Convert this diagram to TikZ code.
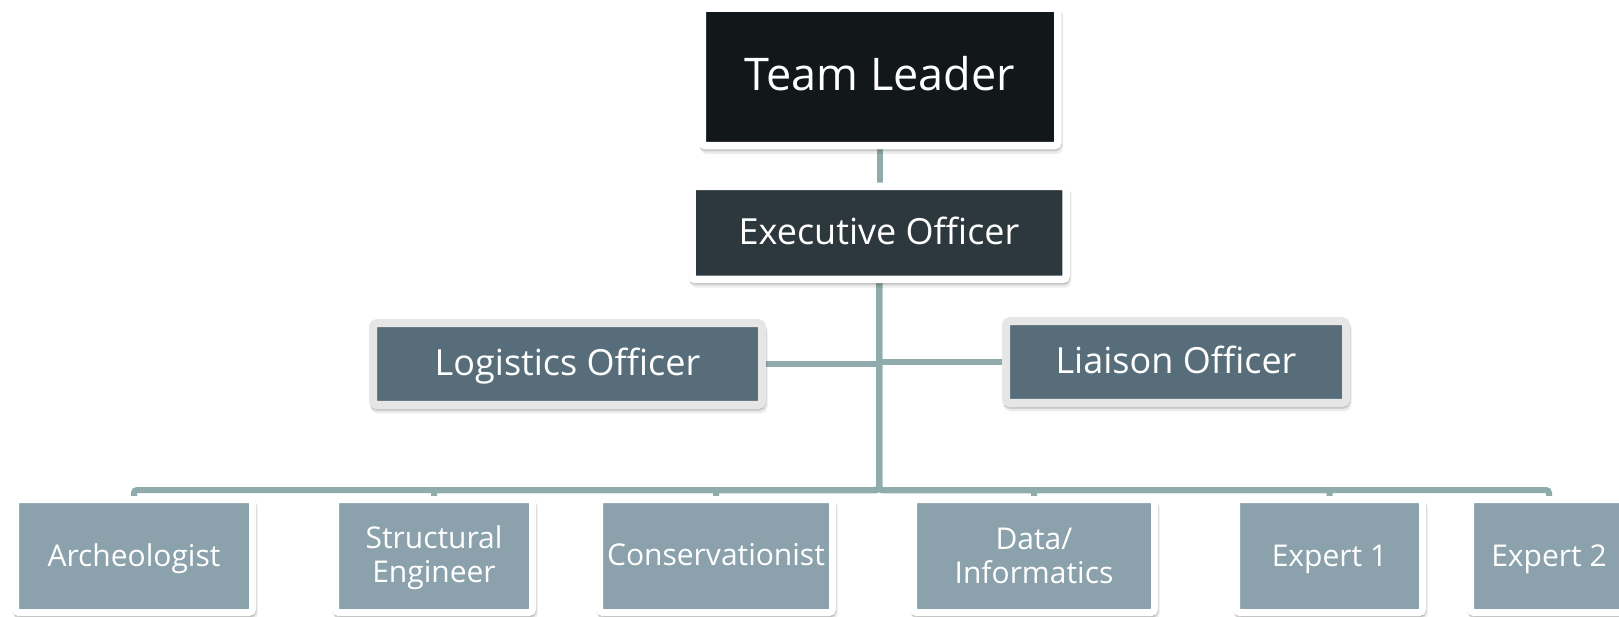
\documentclass[tikz,border=0pt]{standalone}
\usepackage{fontspec}
\setmainfont{Open Sans}
\usetikzlibrary{backgrounds}
\definecolor{cTL}{RGB}{18,23,25}
\definecolor{cEX}{RGB}{45,55,62}
\definecolor{cMID}{RGB}{87,110,122}
\definecolor{cLOW}{RGB}{139,161,171}
\definecolor{cLINE}{RGB}{143,171,171}
\definecolor{cFRAME}{RGB}{230,230,230}
\newcommand{\shiftlbl}[2]{\raisebox{#1}[\height][\depth]{\begin{tabular}{@{}c@{}}#2\end{tabular}}}
\begin{document}
\begin{tikzpicture}[x=1pt,y=-1pt,
 shadowed/.style={preaction={draw=black,fill=black,opacity=0.08,transform canvas={xshift=1.5pt,yshift=-4.5pt}},
                  preaction={draw=black,fill=black,opacity=0.12,transform canvas={xshift=0.5pt,yshift=-2pt}}},
 box/.style={rectangle, rounded corners=3.5pt, draw=white, text=white, inner sep=0pt, align=center, shadowed},
 tlbox/.style={box, line width=7.5pt, fill=cTL, font=\fontsize{45}{54}\selectfont},
 exbox/.style={box, line width=7.5pt, fill=cEX, font=\fontsize{36}{43}\selectfont},
 midbox/.style={box, line width=8pt, draw=cFRAME, fill=cMID, font=\fontsize{36}{43}\selectfont},
 lowbox/.style={box, line width=7pt, fill=cLOW, font=\fontsize{30}{34}\selectfont, minimum height=113pt},
 conn/.style={draw=cLINE, line width=6pt},
]
\useasboundingbox (0,0) rectangle (1619,617);

\node[tlbox, minimum width=355.5pt, minimum height=137.5pt] (tl) at (880,77) {\shiftlbl{-3pt}{Team Leader}};
\node[exbox, minimum width=374pt, minimum height=93pt] (ex) at (879,233) {\shiftlbl{-3pt}{Executive Officer}};
\node[midbox, minimum width=389pt, minimum height=81.5pt] (lo) at (567.5,364) {\shiftlbl{-3pt}{Logistics Officer}};
\node[midbox, minimum width=340pt, minimum height=81.5pt] (li) at (1176,362) {\shiftlbl{-3pt}{Liaison Officer}};
\node[lowbox, minimum width=237pt] (ar) at (134,556) {\shiftlbl{-4pt}{Archeologist}};
\node[lowbox, minimum width=197pt] (st) at (434,556) {\shiftlbl{-3pt}{Structural\\Engineer}};
\node[lowbox, minimum width=233pt] (co) at (716,556) {\shiftlbl{-3pt}{Conservationist}};
\node[lowbox, minimum width=241pt] (da) at (1034,556) {\shiftlbl{-3.5pt}{Data/\\Informatics}};
\node[lowbox, minimum width=186pt] (e1) at (1329.5,556) {\shiftlbl{-4pt}{Expert 1}};
\node[lowbox, minimum width=157pt] (e2) at (1549,556) {\shiftlbl{-4pt}{Expert 2}};

\begin{scope}[on background layer]
\fill[white] (0,0) rectangle (1619,617);
\coordinate (jn) at (879,490);
\draw[conn] (tl.south) -- (tl.south |- ex.north);
\draw[conn] (ex.south) |- (lo.east);
\draw[conn] (ex.south) |- (li.west);
\foreach \n in {ar,st,co,da,e1,e2}
  \draw[conn, rounded corners=3pt] (ex.south) -- (jn) -| (\n.north);
\end{scope}
\end{tikzpicture}
\end{document}
